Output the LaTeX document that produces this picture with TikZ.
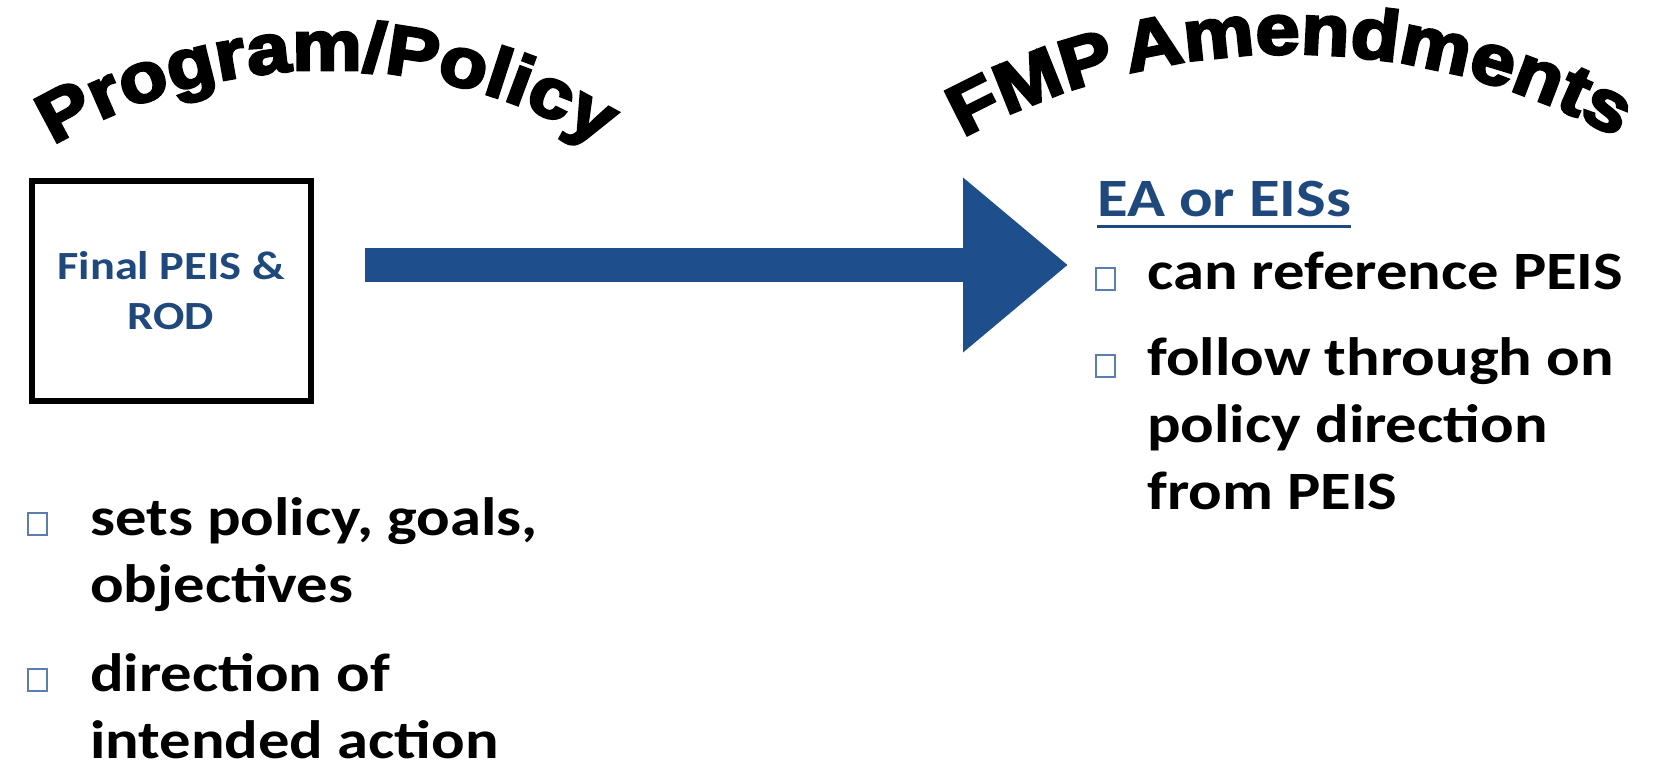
\documentclass[tikz,border=0pt]{standalone}
\usepackage{fontspec}
\setmainfont{Carlito}[FakeStretch=1.16]
\newfontfamily\archfont{Liberation Sans Bold}[FakeBold=4,FakeStretch=1.12,WordSpace=0.5]
\usepackage{tikz}
\usetikzlibrary{arrows.meta,decorations.text,calc}
\definecolor{peisblue}{HTML}{1F497D}
\definecolor{arrowblue}{HTML}{1F4E8C}
\definecolor{bulletblue}{HTML}{5B7DB1}

\begin{document}
\begin{tikzpicture}[x=1pt,y=1pt,line join=miter]
\tikzset{
    titlearc/.style 2 args={decorate, decoration={text along path, text align=center,
        text={|\archfont\fontsize{#1}{#1}\selectfont|#2}}},
    bulletbox/.style={draw=bulletblue, line width=2pt, minimum width=19pt, minimum height=22pt, inner sep=0pt},
    bullettext/.style={anchor=base west, inner sep=0pt, align=left, font=\fontsize{54}{67}\selectfont\bfseries},
}
\useasboundingbox (0,0) rectangle (1654,770);
% arched headings
\path[titlearc={70}{Program/Policy}] (327,165) ++(150:535) arc[start angle=150, end angle=30, radius=535];
\path[titlearc={71}{FMP Amendments}] (1290,36) ++(150:680) arc[start angle=150, end angle=30, radius=680];
% left side
\node[draw, line width=6pt, minimum width=279pt, minimum height=220pt, align=center, text=peisblue,
    font=\fontsize{40}{50}\selectfont\bfseries] (peis) at (171,479) {Final PEIS \&\\ROD};
\node[bulletbox] (bl1) at (37,246) {};
\node[bullettext] (sets) at (90,167) {sets policy, goals,\\objectives};
\node[bulletbox] (bl2) at (37,90) {};
\node[bullettext] (dir) at (90,11) {direction of\\intended action};
% big arrow
\coordinate (tip) at (1068,505);
\draw[arrowblue, line width=34pt, -{Triangle[length=105pt,width=168pt]}] ($(peis.east |- tip)+(51,0)$) -- (tip);
% right side
\node[anchor=base west, inner sep=0pt, text=peisblue, font=\fontsize{54}{54}\selectfont\bfseries] (ea) at (1097,553) {EA or EISs};
\draw[peisblue, line width=3pt] ([yshift=-10pt]ea.base west) -- ([yshift=-10pt]ea.base east);
\node[bulletbox] (br1) at (1105,491) {};
\node[bullettext] (can) at (1147,480) {can reference PEIS};
\node[bulletbox] (br2) at (1105,404) {};
\node[bullettext] (follow) at (1147,260) {follow through on\\policy direction\\from PEIS};
\end{tikzpicture}
\end{document}
